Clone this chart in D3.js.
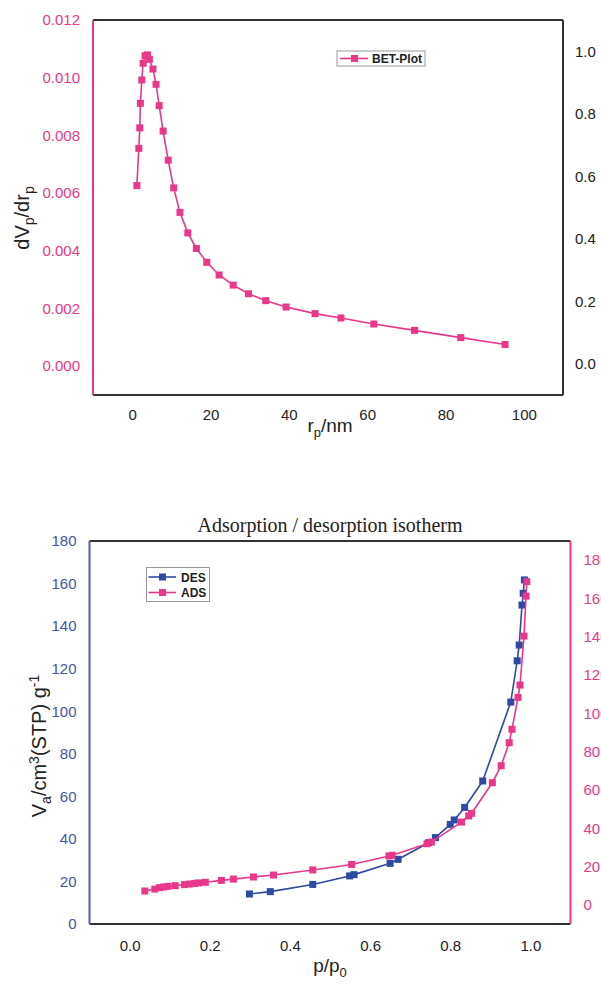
<!DOCTYPE html>
<html><head><meta charset="utf-8">
<script src="https://cdn.jsdelivr.net/npm/d3@7"></script>
<style>body{margin:0;background:#fff}svg{display:block}</style>
</head><body>
<script>
// ---- Data: pore size distribution (top) ----
const rp = [1.2, 1.7, 1.95, 2.1, 2.46, 2.8, 3.3, 3.9, 4.4, 5.3, 6.1, 6.9, 7.9, 9.2, 10.6, 12.2, 14.2, 16.4, 19.05, 22.2, 25.8, 29.7, 34.1, 39.3, 46.7, 53.3, 61.7, 72.1, 83.9, 95.2];
const dvdr = [0.00626, 0.00755, 0.00826, 0.00911, 0.00992, 0.0105, 0.01076, 0.01079, 0.01064, 0.0103, 0.00977, 0.00903, 0.00815, 0.00714, 0.00618, 0.00533, 0.00462, 0.00408, 0.0036, 0.00316, 0.00281, 0.00251, 0.00227, 0.00205, 0.00182, 0.00167, 0.00146, 0.00124, 0.00099, 0.00075];
const topXTicks = [0, 20, 40, 60, 80, 100];
const topLeftTicks = [0, 0.002, 0.004, 0.006, 0.008, 0.010, 0.012];
const topRightTicks = [0, 0.2, 0.4, 0.6, 0.8, 1.0];

// ---- Data: isotherm (bottom) ----
const adsP = [0.038, 0.063, 0.075, 0.085, 0.096, 0.114, 0.137, 0.15, 0.162, 0.172, 0.189, 0.229, 0.259, 0.309, 0.359, 0.457, 0.554, 0.647, 0.655, 0.742, 0.753, 0.828, 0.846, 0.853, 0.905, 0.927, 0.947, 0.954, 0.969, 0.974, 0.984, 0.989, 0.991];
const adsV = [15.5, 16.4, 17.1, 17.4, 17.7, 18.0, 18.5, 18.8, 19.1, 19.3, 19.6, 20.5, 21.1, 22.1, 23.0, 25.4, 28.0, 32.0, 32.3, 37.7, 38.5, 47.9, 50.8, 52.0, 66.4, 74.4, 85.2, 91.5, 106.5, 112.3, 135.3, 154.1, 160.9];
const desP = [0.299, 0.351, 0.457, 0.549, 0.560, 0.650, 0.670, 0.746, 0.763, 0.800, 0.810, 0.836, 0.881, 0.951, 0.967, 0.972, 0.979, 0.982, 0.985];
const desV = [14.1, 15.2, 18.6, 22.6, 23.2, 28.5, 30.4, 38.2, 40.6, 46.8, 48.9, 54.8, 67.2, 104.3, 123.7, 131.1, 149.9, 155.4, 161.7];
const botXTicks = [0, 0.2, 0.4, 0.6, 0.8, 1.0];
const botLeftTicks = [0, 20, 40, 60, 80, 100, 120, 140, 160, 180];
const botRightTicks = [0, 20, 40, 60, 80, 100, 120, 140, 160, 180];

const PINK = "#e9388c", BLUE = "#2f4aa3", BLUE_TXT = "#4355a6", DARK = "#333";
const SANS = "'Liberation Sans', Arial, sans-serif";

const svg = d3.select("body").append("svg").attr("width", 601).attr("height", 986)
  .style("font-family", SANS);

function frame(g, x0, x1, y0, y1, cl, ct, cr, cb) {
  g.append("line").attr("x1", x0).attr("x2", x1).attr("y1", y0).attr("y2", y0).attr("stroke", ct).attr("stroke-width", 2);
  g.append("line").attr("x1", x0).attr("x2", x1).attr("y1", y1).attr("y2", y1).attr("stroke", cb).attr("stroke-width", 2);
  g.append("line").attr("x1", x1).attr("x2", x1).attr("y1", y0).attr("y2", y1).attr("stroke", cr).attr("stroke-width", 2);
  g.append("line").attr("x1", x0).attr("x2", x0).attr("y1", y0).attr("y2", y1).attr("stroke", cl).attr("stroke-width", 2);
}
function styleAxis(g, color) {
  g.select(".domain").remove();
  g.selectAll(".tick line").remove();
  g.selectAll("text").attr("fill", color).style("font-size", "15px").style("font-family", SANS);
}
function series(g, xs, ys, x, y, color) {
  const pts = xs.map((v, i) => [x(v), y(ys[i])]);
  g.append("path").attr("d", d3.line()(pts)).attr("fill", "none").attr("stroke", color).attr("stroke-width", 1.6);
  g.selectAll(null).data(pts).enter().append("rect")
    .attr("x", d => d[0] - 3.5).attr("y", d => d[1] - 3.5).attr("width", 7).attr("height", 7).attr("fill", color);
}

// ================= TOP CHART =================
{
  const L = 93, R = 563, T = 20, B = 395;
  const x = d3.scaleLinear().domain([-10, 110]).range([L, R]);
  const y = d3.scaleLinear().domain([-0.001, 0.012]).range([B, T]);
  const y2 = d3.scaleLinear().domain([-0.1, 1.1]).range([B, T]);
  const g = svg.append("g");

  g.append("g").attr("transform", `translate(0,${B})`)
    .call(d3.axisBottom(x).tickValues(topXTicks).tickSize(0).tickPadding(14))
    .call(a => styleAxis(a, "#222"));
  g.append("g").attr("transform", `translate(${L},0)`)
    .call(d3.axisLeft(y).tickValues(topLeftTicks).tickFormat(d3.format(".3f")).tickSize(0).tickPadding(13))
    .call(a => styleAxis(a, PINK));
  g.append("g").attr("transform", `translate(${R},0)`)
    .call(d3.axisRight(y2).tickValues(topRightTicks).tickFormat(d3.format(".1f")).tickSize(0).tickPadding(12))
    .call(a => styleAxis(a, "#222"));

  frame(g, L, R, T, B, PINK, DARK, DARK, DARK);
  series(g, rp, dvdr, x, y, PINK);

  // axis titles
  const xt = g.append("text").attr("x", 330).attr("y", 432).attr("text-anchor", "middle")
    .attr("fill", "#222").style("font-size", "19px");
  xt.append("tspan").text("r");
  xt.append("tspan").attr("dy", 5).style("font-size", "13px").text("p");
  xt.append("tspan").attr("dy", -5).text("/nm");

  const yt = g.append("text").attr("transform", "translate(29,218) rotate(-90)").attr("text-anchor", "middle")
    .attr("fill", "#222").style("font-size", "20px");
  yt.append("tspan").text("dV");
  yt.append("tspan").attr("dy", 5).style("font-size", "14px").text("p");
  yt.append("tspan").attr("dy", -5).text("/dr");
  yt.append("tspan").attr("dy", 5).style("font-size", "14px").text("p");

  // legend
  const lg = g.append("g");
  lg.append("rect").attr("x", 337).attr("y", 51).attr("width", 88).attr("height", 15)
    .attr("fill", "#fff").attr("stroke", "#999").attr("stroke-width", 1);
  lg.append("line").attr("x1", 340).attr("x2", 368).attr("y1", 58.5).attr("y2", 58.5).attr("stroke", PINK).attr("stroke-width", 1.6);
  lg.append("rect").attr("x", 351).attr("y", 55).attr("width", 7).attr("height", 7).attr("fill", PINK);
  lg.append("text").attr("x", 372).attr("y", 63).attr("fill", "#222").style("font-size", "12px").style("font-weight", "bold").text("BET-Plot");
}

// ================= BOTTOM CHART =================
{
  const L = 89.5, R = 570.5, T = 541, B = 924;
  const x = d3.scaleLinear().domain([-0.1, 1.1]).range([L, R]);
  const y = d3.scaleLinear().domain([0, 180]).range([B, T]);
  const y2 = d3.scaleLinear().domain([-10, 190]).range([B, T]);
  const g = svg.append("g");

  g.append("text").attr("x", 330).attr("y", 532).attr("text-anchor", "middle").attr("fill", "#222")
    .style("font-family", "'Liberation Serif', 'Times New Roman', serif").style("font-size", "20px")
    .text("Adsorption / desorption isotherm");

  g.append("g").attr("transform", `translate(0,${B})`)
    .call(d3.axisBottom(x).tickValues(botXTicks).tickFormat(d3.format(".1f")).tickSize(0).tickPadding(16))
    .call(a => styleAxis(a, "#222"));
  g.append("g").attr("transform", `translate(${L},0)`)
    .call(d3.axisLeft(y).tickValues(botLeftTicks).tickSize(0).tickPadding(13))
    .call(a => styleAxis(a, BLUE_TXT));
  g.append("g").attr("transform", `translate(${R},0)`)
    .call(d3.axisRight(y2).tickValues(botRightTicks).tickSize(0).tickPadding(13))
    .call(a => styleAxis(a, PINK));

  frame(g, L, R, T, B, "#4f5fb0", DARK, PINK, DARK);
  series(g, desP, desV, x, y, BLUE);
  series(g, adsP, adsV, x, y, PINK);

  const xt = g.append("text").attr("x", 330).attr("y", 972).attr("text-anchor", "middle")
    .attr("fill", "#222").style("font-size", "19px");
  xt.append("tspan").text("p/p");
  xt.append("tspan").attr("dy", 5).style("font-size", "13px").text("0");

  const yt = g.append("text").attr("transform", "translate(46,746) rotate(-90)").attr("text-anchor", "middle")
    .attr("fill", "#222").style("font-size", "20px");
  yt.append("tspan").text("V");
  yt.append("tspan").attr("dy", 5).style("font-size", "14px").text("a");
  yt.append("tspan").attr("dy", -5).text("/cm");
  yt.append("tspan").attr("dy", -7).style("font-size", "14px").text("3");
  yt.append("tspan").attr("dy", 7).text("(STP) g");
  yt.append("tspan").attr("dy", -7).style("font-size", "14px").text("-1");

  // legend
  const lg = g.append("g");
  lg.append("rect").attr("x", 146.5).attr("y", 567.5).attr("width", 63).attr("height", 34)
    .attr("fill", "#fff").attr("stroke", "#999").attr("stroke-width", 1);
  const items = [["DES", BLUE, 577], ["ADS", PINK, 592.5]];
  items.forEach(([name, c, cy]) => {
    lg.append("line").attr("x1", 148.5).attr("x2", 176).attr("y1", cy).attr("y2", cy).attr("stroke", c).attr("stroke-width", 1.6);
    lg.append("rect").attr("x", 159).attr("y", cy - 3.5).attr("width", 7).attr("height", 7).attr("fill", c);
    lg.append("text").attr("x", 181).attr("y", cy + 4.5).attr("fill", "#222").style("font-size", "12px").style("font-weight", "bold").text(name);
  });
}
</script>
</body></html>
